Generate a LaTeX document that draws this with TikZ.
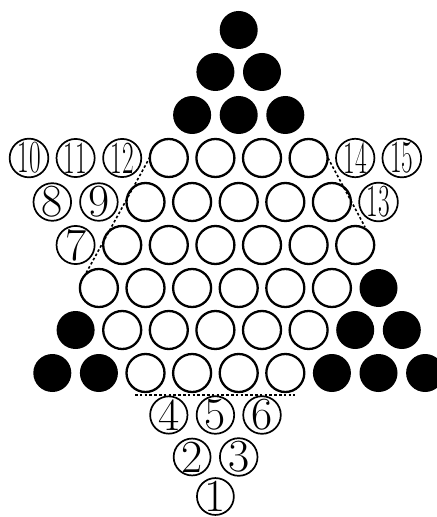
\documentclass[tikz,border=0pt]{standalone}
\usepackage{fontspec}
\usepackage{graphicx}
\newcommand{\twodig}[1]{\scalebox{0.55}[1]{#1}}

\begin{document}
\begin{tikzpicture}[x=0.5pt,y=-0.5pt,
  hole/.style={draw,circle,line width=1.15pt,minimum size=19pt,inner sep=0pt},
  peg/.style ={circle,fill=black,minimum size=19pt,inner sep=0pt},
  num/.style ={draw,circle,line width=0.85pt,minimum size=18.3pt,inner sep=0pt,
               font=\fontsize{23}{23}\selectfont},
  rim/.style ={dash pattern=on 1.3pt off 1.1pt,line width=0.8pt},
]
\useasboundingbox (0,0) rectangle (436,517);

% black pegs: top triangle and lower corners
\foreach \c/\y/\k in {9/30/1, 8/72/2, 10/72/3, 7/115/4, 9/115/5, 11/115/6,
                      15/288/7, 2/330/8, 14/330/9, 16/330/10,
                      1/373/11, 3/373/12, 13/373/13, 15/373/14, 17/373/15}
  \node[peg] (p\k) at ({29+23.3*\c},\y) {};

% empty holes, row by row
\foreach \c in {6,8,...,12}  \node[hole] (ha\c) at ({29+23.3*\c},158) {};
\foreach \c in {5,7,...,13}  \node[hole] (hb\c) at ({29+23.3*\c},202) {};
\foreach \c in {4,6,...,14}  \node[hole] (hc\c) at ({29+23.3*\c},245) {};
\foreach \c in {3,5,...,13}  \node[hole] (hd\c) at ({29+23.3*\c},288) {};
\foreach \c in {4,6,...,12}  \node[hole] (he\c) at ({29+23.3*\c},330) {};
\foreach \c in {5,7,...,11}  \node[hole] (hf\c) at ({29+23.3*\c},373) {};

% numbered holes
\node[num] (n10) at ( 29.0,158) {\twodig{10}};
\node[num] (n11) at ( 75.6,158) {\twodig{11}};
\node[num] (n12) at (122.2,158) {\twodig{12}};
\node[num] (n14) at (355.2,158) {\twodig{14}};
\node[num] (n15) at (401.8,158) {\twodig{15}};
\node[num] (n8)  at ( 52.3,202) {8};
\node[num] (n9)  at ( 98.9,202) {9};
\node[num] (n13) at (378.5,202) {\twodig{13}};
\node[num] (n7)  at ( 75.6,245) {7};
\node[num] (n4)  at (168.8,415) {4};
\node[num] (n5)  at (215.4,415) {5};
\node[num] (n6)  at (262.0,415) {6};
\node[num] (n2)  at (192.1,457) {2};
\node[num] (n3)  at (238.7,457) {3};
\node[num] (n1)  at (215.4,496.5) {1};

% boundary of the centre
\coordinate (ltop) at (150,157);
\coordinate (lbot) at ( 85,275);
\coordinate (rtop) at (328,158);
\coordinate (rbot) at (365,227);
\coordinate (bleft)  at (135,395);
\coordinate (bright) at (295,395);
\draw[rim] (ltop) -- (lbot);
\draw[rim] (rtop) -- (rbot);
\draw[rim] (bleft) -- (bright);
\end{tikzpicture}
\end{document}
